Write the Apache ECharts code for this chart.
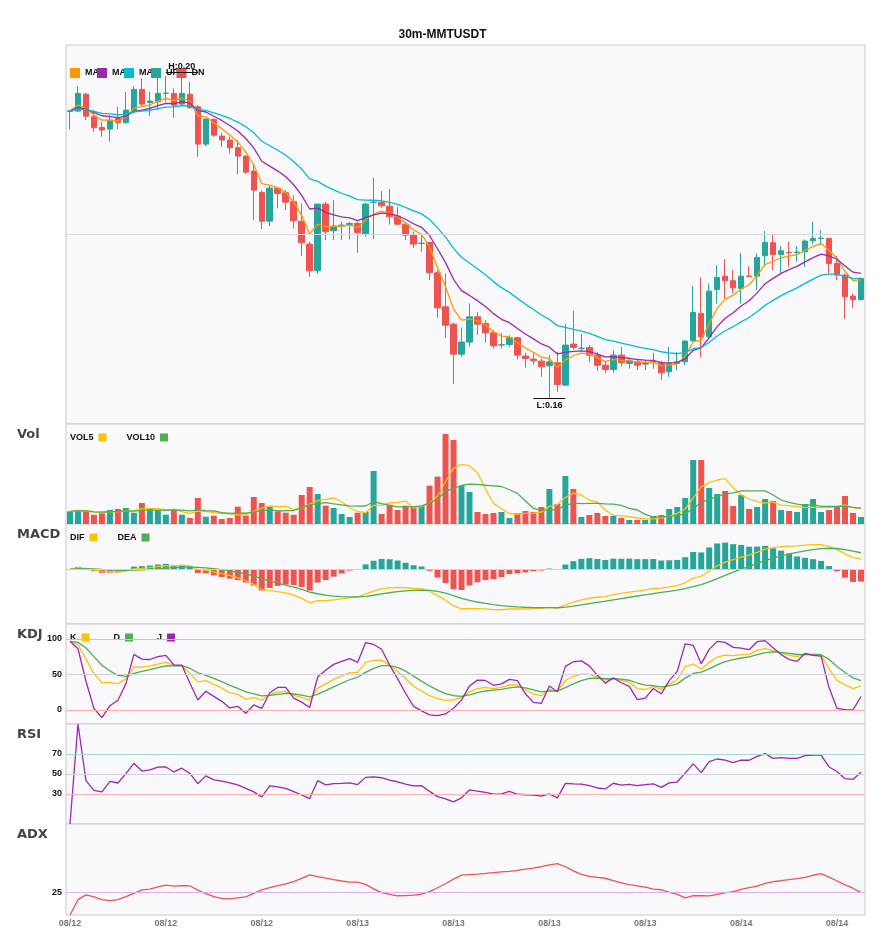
<!DOCTYPE html>
<html><head><meta charset="utf-8">
<script src="https://cdn.jsdelivr.net/npm/echarts@6/dist/echarts.min.js"></script>
<style>html,body{margin:0;padding:0;background:#fff}#c{width:885px;height:950px}</style>
</head><body><div id="c"></div>
<script>
// [open, close, low, high]
const ohlc = [
[0.19505,0.19513,0.19284,0.19521],[0.19509,0.19726,0.19501,0.19816],[0.19717,0.19447,0.19398,0.19734],[0.19439,0.19304,0.19255,0.19521],
[0.19308,0.19276,0.19194,0.19378],[0.19288,0.19398,0.19133,0.19460],[0.19419,0.19366,0.19284,0.19562],[0.19366,0.19521,0.19358,0.19746],
[0.19501,0.19775,0.19480,0.19816],[0.19775,0.19595,0.19562,0.19910],[0.19615,0.19632,0.19447,0.19746],[0.19623,0.19726,0.19521,0.19971],
[0.19726,0.19730,0.19623,0.19938],[0.19726,0.19582,0.19427,0.19787],[0.19595,0.19726,0.19582,0.19991],[0.19717,0.19550,0.19542,0.19869],
[0.19562,0.19104,0.18949,0.19582],[0.19104,0.19411,0.19079,0.19419],[0.19407,0.19214,0.19194,0.19419],[0.19202,0.19153,0.19071,0.19243],
[0.19153,0.19059,0.18989,0.19194],[0.19059,0.18957,0.18736,0.19153],[0.18957,0.18760,0.18736,0.18969],[0.18773,0.18540,0.18171,0.18867],
[0.18511,0.18159,0.18061,0.18540],[0.18159,0.18564,0.18098,0.18597],[0.18564,0.18499,0.18315,0.18580],[0.18507,0.18392,0.18294,0.18540],
[0.18400,0.18163,0.18069,0.18478],[0.18159,0.17893,0.17730,0.18376],[0.17877,0.17550,0.17476,0.17906],[0.17550,0.18368,0.17517,0.18376],
[0.18368,0.18028,0.17926,0.18396],[0.18041,0.18098,0.17926,0.18417],[0.18098,0.18110,0.17926,0.18151],[0.18118,0.18131,0.17934,0.18151],
[0.18131,0.18016,0.17771,0.18151],[0.18000,0.18368,0.17967,0.18384],[0.18388,0.18392,0.17938,0.18691],[0.18388,0.18347,0.18323,0.18527],
[0.18343,0.18212,0.18118,0.18552],[0.18221,0.18122,0.18110,0.18335],[0.18122,0.17987,0.17926,0.18151],[0.17996,0.17877,0.17832,0.18028],
[0.17885,0.17889,0.17783,0.17987],[0.17897,0.17525,0.17435,0.17906],[0.17525,0.17095,0.16973,0.17558],[0.17108,0.16883,0.16728,0.17517],
[0.16895,0.16527,0.16159,0.16912],[0.16527,0.16675,0.16495,0.16854],[0.16675,0.16985,0.16617,0.17149],[0.16985,0.16895,0.16760,0.17046],
[0.16904,0.16789,0.16666,0.16944],[0.16789,0.16630,0.16597,0.16822],[0.16638,0.16642,0.16597,0.16789],[0.16646,0.16728,0.16617,0.16760],
[0.16728,0.16515,0.16462,0.16740],[0.16503,0.16474,0.16364,0.16544],[0.16466,0.16445,0.16400,0.16535],[0.16441,0.16372,0.16249,0.16474],
[0.16384,0.16433,0.15983,0.16515],[0.16421,0.16155,0.16065,0.16556],[0.16147,0.16638,0.16135,0.16895],[0.16650,0.16609,0.16585,0.17059],
[0.16597,0.16601,0.16576,0.16773],[0.16609,0.16515,0.16433,0.16638],[0.16515,0.16392,0.16323,0.16556],[0.16392,0.16339,0.16298,0.16433],
[0.16339,0.16515,0.16298,0.16576],[0.16515,0.16421,0.16372,0.16617],[0.16413,0.16445,0.16351,0.16474],[0.16433,0.16392,0.16331,0.16462],
[0.16405,0.16421,0.16331,0.16454],[0.16433,0.16437,0.16351,0.16544],[0.16421,0.16298,0.16208,0.16446],[0.16311,0.16413,0.16249,0.16617],
[0.16413,0.16433,0.16331,0.16556],[0.16433,0.16687,0.16392,0.16699],[0.16691,0.17038,0.16679,0.17362],[0.17026,0.16740,0.16490,0.17468],
[0.16740,0.17300,0.16720,0.17394],[0.17321,0.17468,0.17149,0.17619],[0.17484,0.17427,0.17210,0.17693],[0.17427,0.17341,0.17272,0.17558],
[0.17333,0.17484,0.17149,0.17771],[0.17484,0.17480,0.17468,0.17607],[0.17484,0.17713,0.17313,0.17762],[0.17734,0.17897,0.17599,0.18036],
[0.17893,0.17750,0.17558,0.17987],[0.17750,0.17795,0.17525,0.17852],[0.17775,0.17771,0.17599,0.17906],[0.17775,0.17779,0.17660,0.17852],
[0.17783,0.17914,0.17599,0.17934],[0.17918,0.17946,0.17877,0.18151],[0.17946,0.17950,0.17865,0.18049],[0.17946,0.17640,0.17517,0.17955],
[0.17640,0.17497,0.17435,0.17730],[0.17497,0.17231,0.16965,0.17517],[0.17239,0.17198,0.17095,0.17272],[0.17198,0.17456,0.17182,0.17468]
];
const volumes = [12.7,14,12.7,9.3,10.7,14,15,16,11.3,21,15,14,9.3,14,9.3,6,26,7.3,8.3,5,6,17.3,8.3,27,21,17.3,12.7,11.3,9.3,29,
37,30,18.3,16,10,7,11.3,12,53,10,19.3,14,18.3,17.3,18.3,38.3,47.3,90,84,38.3,32,12,10,11,12,6,11,13,12,17,
35,20,48,35,7,9,11,8,8,6,4,4,4,8,9,15,17,26,64,64,36,30,33,18,29,15,17,25,23,14,13,12,20,25,12,14,17,28,11,7];
const categories = [];
(function(){let t=new Date(Date.UTC(2025,7,12,8,0));for(let i=0;i<ohlc.length;i++){const d=new Date(t.getTime()+i*1800000);
categories.push(String(d.getUTCMonth()+1).padStart(2,'0')+'/'+String(d.getUTCDate()).padStart(2,'0')+' '+String(d.getUTCHours()).padStart(2,'0')+':'+String(d.getUTCMinutes()).padStart(2,'0'));}})();
const highIdx = 14, lowIdx = 60;

const UP='#26a69a', DN='#ef5350';
const N=ohlc.length, C=ohlc.map(d=>d[1]), L=ohlc.map(d=>d[2]), H=ohlc.map(d=>d[3]);
function ma(arr,n){return arr.map((_,i)=>{const s=arr.slice(Math.max(0,i-n+1),i+1);return s.reduce((a,b)=>a+b,0)/s.length;});}
function ema(arr,n){const a=2/(n+1);let p=arr[0];return arr.map((v,i)=>{p=i?a*v+(1-a)*p:v;return p;});}
const ma5=ema(C,5),ma10=ema(C,10),ma20=ema(C,20);
const vol5=ma(volumes,5),vol10=ma(volumes,10);
const e12=ema(C,12),e26=ema(C,26),dif=e12.map((v,i)=>v-e26[i]),dea=ema(dif,9),hist=dif.map((v,i)=>2*(v-dea[i]));
const K=[],D=[],J=[];
for(let i=0;i<N;i++){const lo=Math.min(...L.slice(Math.max(0,i-8),i+1)),hi=Math.max(...H.slice(Math.max(0,i-8),i+1));
const rsv=hi>lo?(C[i]-lo)/(hi-lo)*100:50;const k=i?2/3*K[i-1]+rsv/3:rsv;const d=i?2/3*D[i-1]+k/3:k;K.push(k);D.push(d);J.push(3*k-2*d);}
const rsi=[0];{let ag=0,al=0;for(let i=1;i<N;i++){const ch=C[i]-C[i-1],g=Math.max(ch,0),l=Math.max(-ch,0);const n=Math.min(i,14);
ag=ag+(g-ag)/n;al=al+(l-al)/n;rsi.push(al===0?100:100-100/(1+ag/al));}}
const adx=[0];{let tr=0,pd=0,md=0,ax=0;for(let i=1;i<N;i++){const t=Math.max(H[i]-L[i],Math.abs(H[i]-C[i-1]),Math.abs(L[i]-C[i-1]));
const up=H[i]-H[i-1],dn=L[i-1]-L[i];const p=up>dn&&up>0?up:0,m=dn>up&&dn>0?dn:0;const n=Math.min(i,14);
tr+=(t-tr)/n;pd+=(p-pd)/n;md+=(m-md)/n;const pdi=pd/tr*100,mdi=md/tr*100;const dx=pdi+mdi?Math.abs(pdi-mdi)/(pdi+mdi)*100:0;
ax+=(dx-ax)/6;adx.push(ax);}}

const tops=[45,424,524,624,724,824],hts=[379,100,100,100,100,91];
const grid=tops.map((t,i)=>({left:66,right:20,top:t,height:hts[i],show:true,backgroundColor:'#f9f9fb',borderColor:'#c8c8d0',borderWidth:1}));
const xAxis=tops.map((t,i)=>({type:'category',gridIndex:i,data:categories,boundaryGap:true,axisLine:{show:false},axisTick:{show:false},
 splitLine:{show:false},axisLabel:i===5?{show:true,interval:11,margin:4,color:'#777',fontWeight:'bold',fontSize:9,formatter:v=>v.slice(0,5)}:{show:false}}));
const yb={axisLine:{show:false},axisTick:{show:false},axisLabel:{show:false},splitLine:{show:false}};
const yAxis=[
 Object.assign({gridIndex:0,min:0.1567,max:0.2032},yb),
 Object.assign({gridIndex:1,min:0,max:100},yb),
 Object.assign({gridIndex:2,scale:true,min:v=>v.min*1.35,max:v=>v.max*1.7},yb),
 Object.assign({gridIndex:3,min:-20,max:121},yb),
 Object.assign({gridIndex:4,min:0,max:100},yb),
 Object.assign({gridIndex:5,min:0,max:99},yb)];
function ml(vals,colors,labels){return {silent:true,symbol:'none',animation:false,
 data:vals.map((v,i)=>({yAxis:v,lineStyle:{color:colors[i],type:'solid',width:1},
 label:{show:labels,position:'start',formatter:String(v),color:'#111',fontWeight:'bold',fontSize:9,distance:4}}))};}
function line(name,data,color,gi,extra){return Object.assign({name,type:'line',data,xAxisIndex:gi,yAxisIndex:gi,symbol:'none',
 lineStyle:{color,width:1.3},itemStyle:{color},animation:false},extra||{});}
const lt={fontSize:9,fontWeight:'bold',color:'#111'};
const option={
 backgroundColor:'#fff',animation:false,
 title:{text:'30m-MMTUSDT',left:'center',top:24,textStyle:{fontSize:12,fontWeight:'bold',color:'#111'}},
 graphic:[['Vol',434],['MACD',534],['KDJ',634],['RSI',734],['ADX',834]].map(([t,y])=>({type:'text',left:17,top:y-6,
  style:{text:t,fill:'#444',font:'bold 13px DejaVu Sans'}})),
 legend:[
  {data:['MA5','MA10','MA20','UP','DN'],left:65,top:63,itemWidth:10,itemHeight:10,itemGap:-2,icon:'rect',selectedMode:false,
   formatter:n=>n.slice(0,2),textStyle:lt},
  {data:['VOL5','VOL10'],left:65,top:428,align:'right',itemWidth:8,itemHeight:8,itemGap:20,icon:'rect',selectedMode:false,textStyle:lt},
  {data:['DIF','DEA'],left:65,top:528,align:'right',itemWidth:8,itemHeight:8,itemGap:20,icon:'rect',selectedMode:false,textStyle:lt},
  {data:['K','D','J'],left:65,top:628,align:'right',itemWidth:8,itemHeight:8,itemGap:24,icon:'rect',selectedMode:false,textStyle:lt}],
 grid,xAxis,yAxis,
 series:[
  {name:'K线',type:'candlestick',data:ohlc,xAxisIndex:0,yAxisIndex:0,barWidth:'75%',
   itemStyle:{color:UP,color0:DN,borderColor:UP,borderColor0:DN,borderWidth:1},
   markLine:{silent:true,symbol:'none',animation:false,lineStyle:{color:'#111',width:1,type:'solid'},
    data:[[{coord:[highIdx-2,H[highIdx]],label:{show:true,position:'insideMiddleTop',formatter:'H:'+H[highIdx].toFixed(2),color:'#111',fontWeight:'bold',fontSize:9,distance:1}},{coord:[highIdx+2,H[highIdx]]}],
          [{coord:[lowIdx-2,L[lowIdx]],label:{show:true,position:'insideMiddleBottom',formatter:'L:'+L[lowIdx].toFixed(2),color:'#111',fontWeight:'bold',fontSize:9,distance:3}},{coord:[lowIdx+2,L[lowIdx]]}]]}},
  {name:'UP',type:'bar',data:[],itemStyle:{color:UP}},
  {name:'DN',type:'bar',data:[],itemStyle:{color:DN}},
  line('MA5',ma5,'#ff9800',0,{markLine:ml([0.18],['#d8d8e0'],false)}),
  line('MA10',ma10,'#9c27b0',0),
  line('MA20',ma20,'#00bcd4',0),
  {name:'Volume',type:'bar',xAxisIndex:1,yAxisIndex:1,barWidth:'75%',data:volumes.map((v,i)=>({value:v,itemStyle:{color:C[i]>=ohlc[i][0]?UP:DN}}))},
  line('VOL5',vol5,'#ffc107',1),
  line('VOL10',vol10,'#4caf50',1),
  {name:'MACD',type:'bar',xAxisIndex:2,yAxisIndex:2,barWidth:'75%',data:hist.map(v=>({value:v,itemStyle:{color:v>=0?UP:DN}})),markLine:ml([0],['#d0d0d8'],false)},
  line('DIF',dif,'#ffc107',2),
  line('DEA',dea,'#4caf50',2),
  line('K',K,'#ffc107',3,{markLine:ml([100,50,0],['#9fd8d2','#d0d0d8','#f7b0b0'],true)}),
  line('D',D,'#4caf50',3),
  line('J',J,'#9c27b0',3),
  line('RSI',rsi,'#9c27b0',4,{markLine:ml([70,50,30],['#9fd8d2','#d0d0d8','#f7b0b0'],true)}),
  line('ADX',adx,'#ef5350',5,{markLine:ml([25],['#dcb0e8'],true)})
 ]};
echarts.init(document.getElementById('c')).setOption(option);
</script></body></html>
